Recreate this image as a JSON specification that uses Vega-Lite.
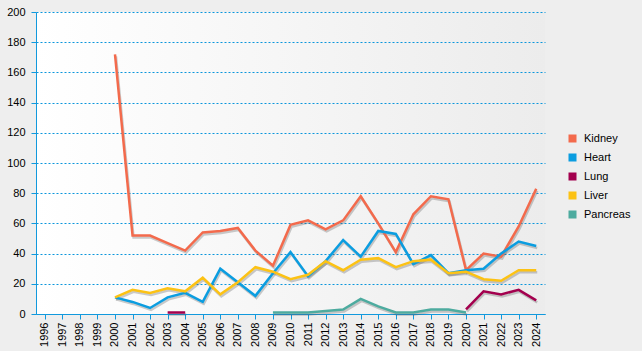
{
  "$schema": "https://vega.github.io/schema/vega-lite/v6.json",
  "width": 509,
  "height": 302,
  "autosize": {"type": "none"},
  "padding": {"left": 36, "top": 12, "right": 97, "bottom": 37},
  "background": "#eeeeee",
  "config": {
    "view": {
      "stroke": null,
      "fill": {
        "gradient": "linear",
        "x1": 0, "y1": 0, "x2": 1, "y2": 0,
        "stops": [
          {"offset": 0, "color": "#ffffff"},
          {"offset": 1, "color": "#ececec"}
        ]
      }
    },
    "font": "Liberation Sans",
    "axis": {
      "domainColor": "#1199dd",
      "tickColor": "#1199dd",
      "tickSize": 5,
      "labelColor": "#000000",
      "labelFont": "Liberation Sans",
      "labelFontSize": 11,
      "labelOverlap": false
    },
    "legend": {"labelFont": "Liberation Sans", "labelFontSize": 11, "labelColor": "#000000"}
  },
  "datasets": {
    "organs": [
      {"year": 2000, "organ": "Kidney", "value": 172},
      {"year": 2001, "organ": "Kidney", "value": 52},
      {"year": 2002, "organ": "Kidney", "value": 52},
      {"year": 2003, "organ": "Kidney", "value": 47},
      {"year": 2004, "organ": "Kidney", "value": 42},
      {"year": 2005, "organ": "Kidney", "value": 54},
      {"year": 2006, "organ": "Kidney", "value": 55},
      {"year": 2007, "organ": "Kidney", "value": 57},
      {"year": 2008, "organ": "Kidney", "value": 42},
      {"year": 2009, "organ": "Kidney", "value": 32},
      {"year": 2010, "organ": "Kidney", "value": 59},
      {"year": 2011, "organ": "Kidney", "value": 62},
      {"year": 2012, "organ": "Kidney", "value": 56},
      {"year": 2013, "organ": "Kidney", "value": 62},
      {"year": 2014, "organ": "Kidney", "value": 78},
      {"year": 2015, "organ": "Kidney", "value": 60},
      {"year": 2016, "organ": "Kidney", "value": 41},
      {"year": 2017, "organ": "Kidney", "value": 66},
      {"year": 2018, "organ": "Kidney", "value": 78},
      {"year": 2019, "organ": "Kidney", "value": 76},
      {"year": 2020, "organ": "Kidney", "value": 29},
      {"year": 2021, "organ": "Kidney", "value": 40},
      {"year": 2022, "organ": "Kidney", "value": 38},
      {"year": 2023, "organ": "Kidney", "value": 58},
      {"year": 2024, "organ": "Kidney", "value": 83},
      {"year": 2000, "organ": "Heart", "value": 11},
      {"year": 2001, "organ": "Heart", "value": 8},
      {"year": 2002, "organ": "Heart", "value": 4},
      {"year": 2003, "organ": "Heart", "value": 11},
      {"year": 2004, "organ": "Heart", "value": 14},
      {"year": 2005, "organ": "Heart", "value": 8},
      {"year": 2006, "organ": "Heart", "value": 30},
      {"year": 2007, "organ": "Heart", "value": 21},
      {"year": 2008, "organ": "Heart", "value": 12},
      {"year": 2009, "organ": "Heart", "value": 27},
      {"year": 2010, "organ": "Heart", "value": 41},
      {"year": 2011, "organ": "Heart", "value": 25},
      {"year": 2012, "organ": "Heart", "value": 35},
      {"year": 2013, "organ": "Heart", "value": 49},
      {"year": 2014, "organ": "Heart", "value": 38},
      {"year": 2015, "organ": "Heart", "value": 55},
      {"year": 2016, "organ": "Heart", "value": 53},
      {"year": 2017, "organ": "Heart", "value": 33},
      {"year": 2018, "organ": "Heart", "value": 39},
      {"year": 2019, "organ": "Heart", "value": 27},
      {"year": 2020, "organ": "Heart", "value": 29},
      {"year": 2021, "organ": "Heart", "value": 30},
      {"year": 2022, "organ": "Heart", "value": 40},
      {"year": 2023, "organ": "Heart", "value": 48},
      {"year": 2024, "organ": "Heart", "value": 45},
      {"year": 2003, "organ": "Lung", "value": 1},
      {"year": 2004, "organ": "Lung", "value": 1},
      {"year": 2005, "organ": "Lung", "value": null},
      {"year": 2006, "organ": "Lung", "value": null},
      {"year": 2007, "organ": "Lung", "value": null},
      {"year": 2008, "organ": "Lung", "value": null},
      {"year": 2009, "organ": "Lung", "value": null},
      {"year": 2010, "organ": "Lung", "value": null},
      {"year": 2011, "organ": "Lung", "value": null},
      {"year": 2012, "organ": "Lung", "value": null},
      {"year": 2013, "organ": "Lung", "value": null},
      {"year": 2014, "organ": "Lung", "value": null},
      {"year": 2015, "organ": "Lung", "value": null},
      {"year": 2016, "organ": "Lung", "value": null},
      {"year": 2017, "organ": "Lung", "value": null},
      {"year": 2018, "organ": "Lung", "value": null},
      {"year": 2019, "organ": "Lung", "value": null},
      {"year": 2020, "organ": "Lung", "value": 3},
      {"year": 2021, "organ": "Lung", "value": 15},
      {"year": 2022, "organ": "Lung", "value": 13},
      {"year": 2023, "organ": "Lung", "value": 16},
      {"year": 2024, "organ": "Lung", "value": 9},
      {"year": 2000, "organ": "Liver", "value": 11},
      {"year": 2001, "organ": "Liver", "value": 16},
      {"year": 2002, "organ": "Liver", "value": 14},
      {"year": 2003, "organ": "Liver", "value": 17},
      {"year": 2004, "organ": "Liver", "value": 15},
      {"year": 2005, "organ": "Liver", "value": 24},
      {"year": 2006, "organ": "Liver", "value": 13},
      {"year": 2007, "organ": "Liver", "value": 21},
      {"year": 2008, "organ": "Liver", "value": 31},
      {"year": 2009, "organ": "Liver", "value": 28},
      {"year": 2010, "organ": "Liver", "value": 23},
      {"year": 2011, "organ": "Liver", "value": 26},
      {"year": 2012, "organ": "Liver", "value": 35},
      {"year": 2013, "organ": "Liver", "value": 29},
      {"year": 2014, "organ": "Liver", "value": 36},
      {"year": 2015, "organ": "Liver", "value": 37},
      {"year": 2016, "organ": "Liver", "value": 31},
      {"year": 2017, "organ": "Liver", "value": 35},
      {"year": 2018, "organ": "Liver", "value": 36},
      {"year": 2019, "organ": "Liver", "value": 27},
      {"year": 2020, "organ": "Liver", "value": 28},
      {"year": 2021, "organ": "Liver", "value": 23},
      {"year": 2022, "organ": "Liver", "value": 22},
      {"year": 2023, "organ": "Liver", "value": 29},
      {"year": 2024, "organ": "Liver", "value": 29},
      {"year": 2009, "organ": "Pancreas", "value": 1},
      {"year": 2010, "organ": "Pancreas", "value": 1},
      {"year": 2011, "organ": "Pancreas", "value": 1},
      {"year": 2012, "organ": "Pancreas", "value": 2},
      {"year": 2013, "organ": "Pancreas", "value": 3},
      {"year": 2014, "organ": "Pancreas", "value": 10},
      {"year": 2015, "organ": "Pancreas", "value": 5},
      {"year": 2016, "organ": "Pancreas", "value": 1},
      {"year": 2017, "organ": "Pancreas", "value": 1},
      {"year": 2018, "organ": "Pancreas", "value": 3},
      {"year": 2019, "organ": "Pancreas", "value": 3},
      {"year": 2020, "organ": "Pancreas", "value": 1}
    ]
  },
  "data": {"name": "organs"},
  "encoding": {
    "x": {
      "field": "year",
      "type": "ordinal",
      "scale": {
        "type": "point",
        "padding": 0.5,
        "domain": [1996, 1997, 1998, 1999, 2000, 2001, 2002, 2003, 2004, 2005, 2006, 2007, 2008, 2009, 2010, 2011, 2012, 2013, 2014, 2015, 2016, 2017, 2018, 2019, 2020, 2021, 2022, 2023, 2024]
      },
      "axis": {"title": null, "labelAngle": -90, "labelPadding": 3, "grid": false}
    },
    "y": {
      "field": "value",
      "type": "quantitative",
      "scale": {"domain": [0, 200], "nice": false},
      "axis": {
        "title": null,
        "values": [0, 20, 40, 60, 80, 100, 120, 140, 160, 180, 200],
        "grid": true,
        "gridColor": "#0a96dc",
        "gridDash": [2, 2],
        "gridWidth": 1,
        "labelPadding": 6
      }
    }
  },
  "layer": [
    {
      "mark": {"type": "line", "color": "#555555", "opacity": 0.3, "strokeWidth": 2.5, "xOffset": 1, "yOffset": 2, "invalid": "break-paths-show-domains"},
      "encoding": {
        "detail": {"field": "organ"}
      }
    },
    {
      "mark": {"type": "line", "strokeWidth": 2.5, "invalid": "break-paths-show-domains"},
      "encoding": {
        "color": {
          "field": "organ",
          "type": "nominal",
          "scale": {
            "domain": ["Kidney", "Heart", "Lung", "Liver", "Pancreas"],
            "range": ["#f36a4c", "#0b9de0", "#a3004e", "#fcc214", "#4dab9f"]
          },
          "legend": {
            "title": null,
            "orient": "none",
            "legendX": 531,
            "legendY": 121,
            "symbolType": "square",
            "symbolSize": 64,
            "labelOffset": 6,
            "rowPadding": 7,
            "padding": 0,
            "encode": {
              "symbols": {
                "update": {
                  "fill": {"scale": "color", "field": "value"},
                  "strokeWidth": {"value": 0},
                  "opacity": {"value": 1}
                }
              }
            }
          }
        }
      }
    }
  ]
}
